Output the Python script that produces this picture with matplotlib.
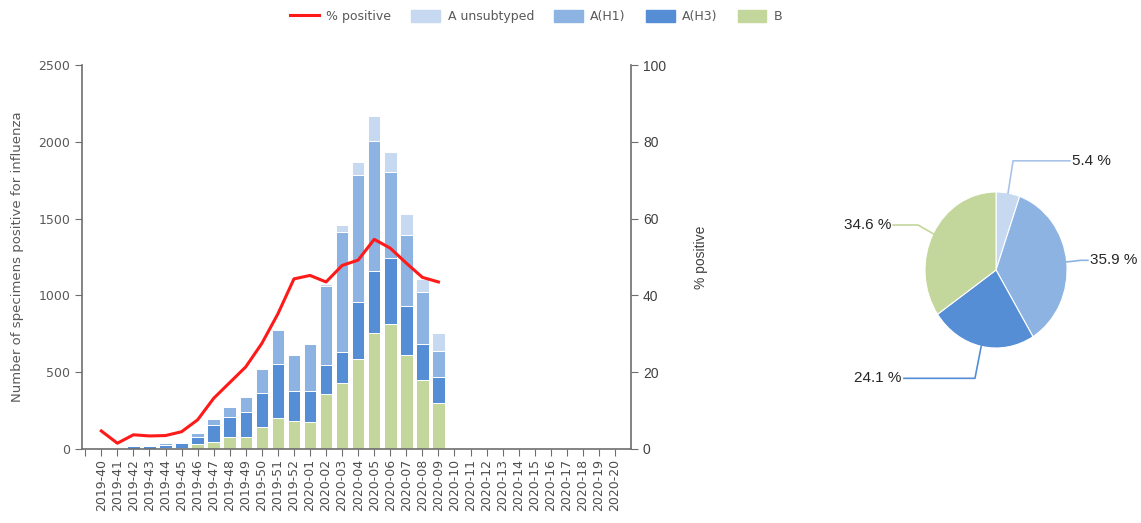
import numpy as np
import matplotlib
matplotlib.use('Agg')
import matplotlib.pyplot as plt
from matplotlib.patches import Patch
from matplotlib.lines import Line2D

weeks = ['2019-%d' % w for w in range(40, 53)] + ['2020-%02d' % w for w in range(1, 21)]

# weekly counts (only up to 2020-09 reported)
b_vals   = [2, 1, 3, 3, 5, 6, 30, 48, 76, 75, 145, 202, 184, 176, 356, 428, 584, 757, 812, 612, 449, 301]
h3_vals  = [5, 3, 15, 17, 24, 30, 50, 110, 134, 165, 222, 351, 194, 202, 191, 202, 375, 400, 429, 319, 237, 166]
h1_vals  = [8, 2, 6, 7, 8, 10, 22, 37, 61, 97, 152, 222, 232, 306, 513, 785, 827, 850, 565, 464, 336, 173]
uns_vals = [0, 0, 0, 0, 0, 0, 0, 0, 0, 0, 0, 0, 0, 0, 15, 43, 82, 163, 126, 135, 85, 115]
pct_pos  = [4.7, 1.5, 3.7, 3.4, 3.5, 4.5, 7.6, 13.2, 17.3, 21.4, 27.5, 35.2, 44.3, 45.2,
            43.5, 47.8, 49.2, 54.6, 52.3, 48.4, 44.7, 43.5]

pie_labels = ['A unsubtyped', 'A(H1)', 'A(H3)', 'B']
pie_vals = [5.4, 35.9, 24.1, 34.6]

c_uns = '#c6d9f1'
c_h1 = '#8db3e2'
c_h3 = '#558ed5'
c_b = '#c3d69b'
c_line = '#ff1a1a'
axis_col = '#6e6e6e'
txt_col = '#595959'

fig = plt.figure(figsize=(11.41, 5.23), dpi=100)
ax = fig.add_axes([0.0719, 0.1415, 0.4812, 0.7342])

n = len(b_vals)
x = np.arange(n)
b = np.array(b_vals)
h3 = np.array(h3_vals)
h1 = np.array(h1_vals)
un = np.array(uns_vals)
w = 0.78
kw = dict(width=w, edgecolor='white', linewidth=0.7)
ax.bar(x, b, color=c_b, **kw)
ax.bar(x, h3, bottom=b, color=c_h3, **kw)
ax.bar(x, h1, bottom=b + h3, color=c_h1, **kw)
ax.bar(x, un, bottom=b + h3 + h1, color=c_uns, **kw)

ax.set_xlim(-1.2, 33.0)
ax.set_ylim(0, 2500)
ax.set_yticks(range(0, 2501, 500))
ax.set_xticks(range(-1, len(weeks)))
ax.set_xticklabels([''] + weeks, rotation=90, fontsize=9, color='#4d4d4d')
ax.tick_params(axis='y', labelsize=9, colors=txt_col, direction='out', length=5, color=axis_col)
ax.tick_params(axis='x', direction='out', length=5, color=axis_col, pad=2)
for s in ['top', 'right']:
    ax.spines[s].set_visible(False)
for s in ['left', 'bottom']:
    ax.spines[s].set_color(axis_col)
    ax.spines[s].set_linewidth(1.2)
ax.set_ylabel('Number of specimens positive for influenza', fontsize=9.5, color=txt_col, labelpad=10)

ax2 = ax.twinx()
ax2.plot(x, pct_pos, color=c_line, lw=2.2)
ax2.set_ylim(0, 100)
ax2.set_yticks(range(0, 101, 20))
ax2.tick_params(axis='y', labelsize=10, colors='#404040', direction='out', length=5, color=axis_col)
for lab in ax2.get_yticklabels():
    lab.set_family('Liberation Sans')
for s in ['top', 'left', 'bottom']:
    ax2.spines[s].set_visible(False)
ax2.spines['right'].set_color(axis_col)
ax2.spines['right'].set_linewidth(1.2)
ax2.set_ylabel('% positive', fontsize=10, color='#404040', family='Liberation Sans', labelpad=20)

handles = [Line2D([0], [0], color=c_line, lw=2.2),
           Patch(color=c_uns), Patch(color=c_h1), Patch(color=c_h3), Patch(color=c_b)]
labels = ['% positive'] + pie_labels
fig.legend(handles, labels, loc='center', bbox_to_anchor=(0.47, 0.968), ncol=5, frameon=False,
           fontsize=9, labelcolor=txt_col, handlelength=2.3, handleheight=1.0,
           columnspacing=1.6, handletextpad=0.6)

# pie (slightly taller than wide, as in the original)
pax = fig.add_axes([0.8107, 0.3346, 0.1245, 0.2983])
pcolors = [c_uns, c_h1, c_h3, c_b]
wedges, _ = pax.pie(pie_vals, colors=pcolors, startangle=90, counterclock=False, radius=1,
                    wedgeprops=dict(edgecolor='white', linewidth=0.8))
pax.set_aspect('auto')
pax.set_xlim(-1, 1)
pax.set_ylim(-1, 1)
pax.axis('off')

# leader lines: (elbow factor, horizontal length)
leaders = [(1.42, 0.8), (1.2, 0.1), (1.42, -1.0), (1.24, -0.35)]
for wdg, val, col, (k, dx) in zip(wedges, pie_vals, pcolors, leaders):
    ang = np.deg2rad((wdg.theta1 + wdg.theta2) / 2)
    ex, ey = np.cos(ang), np.sin(ang)
    kx, ky = ex * k, ey * k
    tx = kx + dx
    lc = col if col != c_uns else '#a9c4e8'
    pax.plot([ex, kx, tx], [ey, ky, ky], color=lc, lw=1.2, clip_on=False)
    ha = 'left' if dx >= 0 else 'right'
    off = 0.03 if dx >= 0 else -0.03
    pax.text(tx + off, ky, '%.1f %%' % val, ha=ha, va='center', fontsize=11,
             family='Liberation Sans', color='#262626')

fig.savefig('out.png', dpi=100)
